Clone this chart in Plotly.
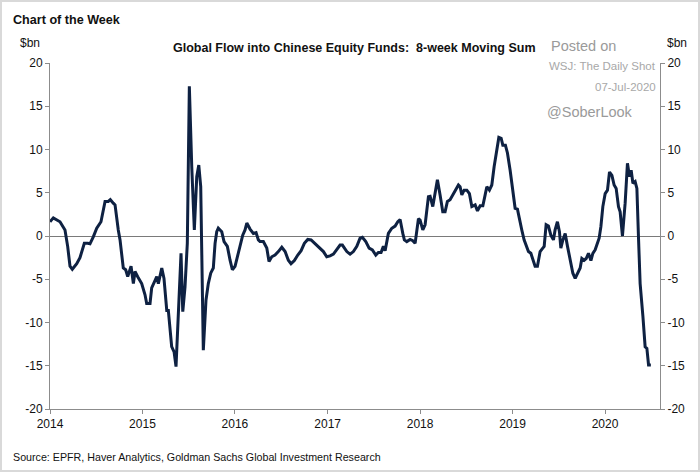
import plotly.graph_objects as go
import pandas as pd

# Time (decimal years) and 8-week moving sum of flows ($bn)
years = [
    2014.000, 2014.036, 2014.108, 2014.162, 2014.191, 2014.216, 2014.241, 2014.289, 2014.324, 2014.371,
    2014.408, 2014.432, 2014.468, 2014.505, 2014.551, 2014.595, 2014.630, 2014.652, 2014.684, 2014.703,
    2014.738, 2014.757, 2014.792, 2014.818, 2014.840, 2014.876, 2014.901, 2014.919, 2014.948, 2014.973,
    2014.991, 2015.027, 2015.045, 2015.081, 2015.099, 2015.154, 2015.171, 2015.208, 2015.232, 2015.262,
    2015.279, 2015.315, 2015.341, 2015.362, 2015.387, 2015.416, 2015.435, 2015.459, 2015.484, 2015.506,
    2015.532, 2015.560, 2015.586, 2015.608, 2015.629, 2015.657, 2015.686, 2015.711, 2015.737, 2015.765,
    2015.784, 2015.802, 2015.819, 2015.856, 2015.881, 2015.917, 2015.946, 2015.971, 2016.000, 2016.025,
    2016.054, 2016.083, 2016.108, 2016.127, 2016.162, 2016.198, 2016.227, 2016.252, 2016.270, 2016.306,
    2016.343, 2016.367, 2016.397, 2016.432, 2016.468, 2016.505, 2016.541, 2016.576, 2016.605, 2016.641,
    2016.678, 2016.714, 2016.749, 2016.786, 2016.822, 2016.865, 2016.919, 2016.955, 2016.991, 2017.027,
    2017.063, 2017.100, 2017.135, 2017.160, 2017.182, 2017.208, 2017.243, 2017.279, 2017.316, 2017.351,
    2017.376, 2017.413, 2017.449, 2017.484, 2017.521, 2017.549, 2017.578, 2017.603, 2017.622, 2017.657,
    2017.694, 2017.730, 2017.759, 2017.784, 2017.813, 2017.830, 2017.856, 2017.892, 2017.921, 2017.946,
    2017.982, 2018.000, 2018.029, 2018.054, 2018.090, 2018.108, 2018.137, 2018.162, 2018.187, 2018.216,
    2018.245, 2018.270, 2018.295, 2018.324, 2018.354, 2018.378, 2018.414, 2018.432, 2018.451, 2018.476,
    2018.505, 2018.533, 2018.559, 2018.595, 2018.620, 2018.649, 2018.678, 2018.703, 2018.721, 2018.749,
    2018.775, 2018.800, 2018.829, 2018.851, 2018.876, 2018.894, 2018.922, 2018.944, 2018.973, 2019.002,
    2019.027, 2019.052, 2019.073, 2019.099, 2019.124, 2019.146, 2019.171, 2019.197, 2019.225, 2019.243,
    2019.268, 2019.297, 2019.326, 2019.341, 2019.362, 2019.387, 2019.413, 2019.441, 2019.459, 2019.484,
    2019.506, 2019.521, 2019.543, 2019.568, 2019.593, 2019.622, 2019.651, 2019.676, 2019.701, 2019.730,
    2019.748, 2019.773, 2019.795, 2019.820, 2019.846, 2019.867, 2019.892, 2019.911, 2019.935, 2019.954,
    2019.975, 2020.000, 2020.025, 2020.047, 2020.073, 2020.097, 2020.119, 2020.144, 2020.162, 2020.187,
    2020.216, 2020.241, 2020.263, 2020.281, 2020.300, 2020.324, 2020.343, 2020.360, 2020.378, 2020.408,
    2020.432, 2020.451, 2020.469, 2020.494,
]
flows = [
    1.65, 2.1, 1.65, 0.7, -1.2, -3.5, -3.85, -3.2, -2.5, -0.85,
    -0.85, -0.9, -0.1, 0.9, 1.65, 4.0, 4.0, 4.2, 3.8, 3.6,
    0.7, -0.45, -3.7, -3.9, -4.7, -3.5, -5.5, -4.1, -4.7, -5.1,
    -5.5, -6.8, -7.8, -7.8, -6.0, -4.7, -5.5, -3.7, -4.9, -8.6,
    -8.6, -12.8, -13.4, -15.1, -9.3, -2.0, -8.75, -5.9, -0.85, 17.3,
    8.0, 0.7, 6.85, 8.2, 5.7, -13.2, -7.4, -5.5, -4.3, -3.7,
    -0.85, 0.5, 0.9, 0.5, -0.65, -1.2, -2.8, -3.9, -3.5, -2.4,
    -1.2, 0.1, 0.7, 1.5, 0.8, 0.3, 0.4, -0.45, -0.65, -0.65,
    -1.4, -2.95, -2.4, -2.2, -1.8, -1.3, -1.8, -2.8, -3.2, -2.85,
    -2.2, -1.7, -0.85, -0.4, -0.45, -0.85, -1.4, -1.8, -2.4, -2.3,
    -2.1, -1.6, -1.05, -1.05, -1.4, -1.8, -2.1, -1.8, -1.2, -0.25,
    -0.15, -0.65, -1.4, -1.6, -2.2, -1.9, -1.9, -1.2, -1.7, 0.3,
    0.9, 1.15, 1.65, 1.9, 0.3, -0.45, -0.65, -0.4, -0.55, -0.85,
    2.0, 1.85, 0.7, 1.3, 4.55, 4.6, 3.4, 4.75, 6.5, 4.75,
    2.8, 2.8, 4.0, 4.2, 4.75, 5.3, 5.9, 5.7, 4.75, 5.3,
    5.3, 4.9, 3.4, 3.6, 2.9, 3.5, 3.5, 4.75, 5.7, 5.3,
    5.9, 8.0, 10.3, 11.4, 11.3, 10.5, 10.5, 9.6, 7.6, 5.3,
    3.2, 3.1, 1.85, 0.7, -0.45, -1.05, -1.8, -2.0, -2.8, -3.5,
    -3.5, -1.8, -1.4, -1.2, 1.3, 1.15, 0.1, -0.45, 0.7, 1.65,
    0.5, -1.4, -0.45, 0.3, -1.2, -2.95, -4.3, -4.9, -4.3, -3.7,
    -2.6, -2.8, -2.6, -2.0, -2.85, -2.0, -1.6, -1.05, -0.25, 1.1,
    3.4, 4.9, 5.3, 7.4, 7.0, 5.9, 5.5, 3.4, 2.8, 0.0,
    3.8, 8.4, 6.85, 7.6, 6.1, 6.3, 5.5, -0.1, -5.5, -9.3,
    -12.8, -13.0, -14.9, -14.9,
]
y_ticks = [-20, -15, -10, -5, 0, 5, 10, 15, 20]
x_tick_years = [2014, 2015, 2016, 2017, 2018, 2019, 2020]

base = pd.Timestamp("2014-01-01")
dates = [base + pd.Timedelta(days=(y - 2014) * 365.25) for y in years]
x_ticks = [pd.Timestamp(f"{y}-01-01") for y in x_tick_years]

W, H = 700, 472
ML, MR, MT, MB = 50, 40, 63, 63
PW, PH = W - ML - MR, H - MT - MB

FONT = "Liberation Sans, Arial"
AXIS_COL = "#8c8c8c"
LINE_COL = "#0e2142"

fig = go.Figure()
fig.add_trace(go.Scatter(
    x=dates, y=flows, mode="lines",
    line=dict(color=LINE_COL, width=3),
    hoverinfo="skip", showlegend=False,
))
# invisible trace to activate the right axis
fig.add_trace(go.Scatter(x=[dates[0]], y=[0], yaxis="y2", mode="lines",
                         line=dict(width=0), hoverinfo="skip", showlegend=False))

yax = dict(range=[-20, 20], tickvals=y_ticks, ticktext=[str(v) for v in y_ticks],
           showgrid=False, showline=True, linecolor=AXIS_COL, linewidth=1,
           ticks="outside", ticklen=4, tickcolor=AXIS_COL,
           tickfont=dict(family=FONT, size=12, color="#111"), fixedrange=True)

fig.update_layout(
    width=W, height=H,
    margin=dict(l=ML, r=MR, t=MT, b=MB, autoexpand=False),
    paper_bgcolor="white", plot_bgcolor="white",
    hovermode=False,
    xaxis=dict(range=[pd.Timestamp("2014-01-01"), pd.Timestamp("2020-08-05")],
               tickvals=x_ticks, ticktext=[str(y) for y in x_tick_years],
               showgrid=False, showline=True, linecolor=AXIS_COL, linewidth=1,
               ticks="outside", ticklen=4, tickcolor=AXIS_COL, fixedrange=True,
               tickfont=dict(family=FONT, size=12, color="#111")),
    yaxis=dict(**yax, zeroline=True, zerolinecolor="#7a7a7a", zerolinewidth=1),
    yaxis2=dict(**yax, overlaying="y", side="right", zeroline=False),
)


def px_ann(text, x, y, size, color="#111", bold=False, xanchor="left"):
    t = f"<b>{text}</b>" if bold else text
    fig.add_annotation(text=t, x=(x - ML) / PW, y=(H - MB - y) / PH,
                       xref="paper", yref="paper", borderpad=0,
                       xanchor=xanchor, yanchor="middle", showarrow=False,
                       font=dict(family=FONT, size=size, color=color))


px_ann("Chart of the Week", 12, 20, 12.6, bold=True)
px_ann("$bn", 41, 43, 12, xanchor="right")
px_ann("$bn", 666, 43, 12)
px_ann("Global Flow into Chinese Equity Funds:  8-week Moving Sum", 354, 48, 12.5,
       bold=True, xanchor="center")
px_ann("Posted on", 550, 46, 14.5, color="#9a9a9a")
px_ann("WSJ: The Daily Shot", 657, 66, 11.5, color="#a8a8a8", xanchor="right")
px_ann("07-Jul-2020", 657, 87, 11.5, color="#a8a8a8", xanchor="right")
px_ann("@SoberLook", 546, 112, 14.5, color="#9a9a9a")
px_ann("Source: EPFR, Haver Analytics, Goldman Sachs Global Investment Research", 12, 457, 10.7)

fig.add_shape(type="rect", xref="paper", yref="paper",
              x0=(1 - ML) / PW, x1=(W - 1 - ML) / PW,
              y0=(H - MB - (H - 1)) / PH, y1=(H - MB - 1) / PH,
              line=dict(color="#d9d9d9", width=2), fillcolor="rgba(0,0,0,0)", layer="below")

fig.write_html("out.html", config={"displayModeBar": False, "staticPlot": True},
               post_script="document.body.style.margin='0px';")
